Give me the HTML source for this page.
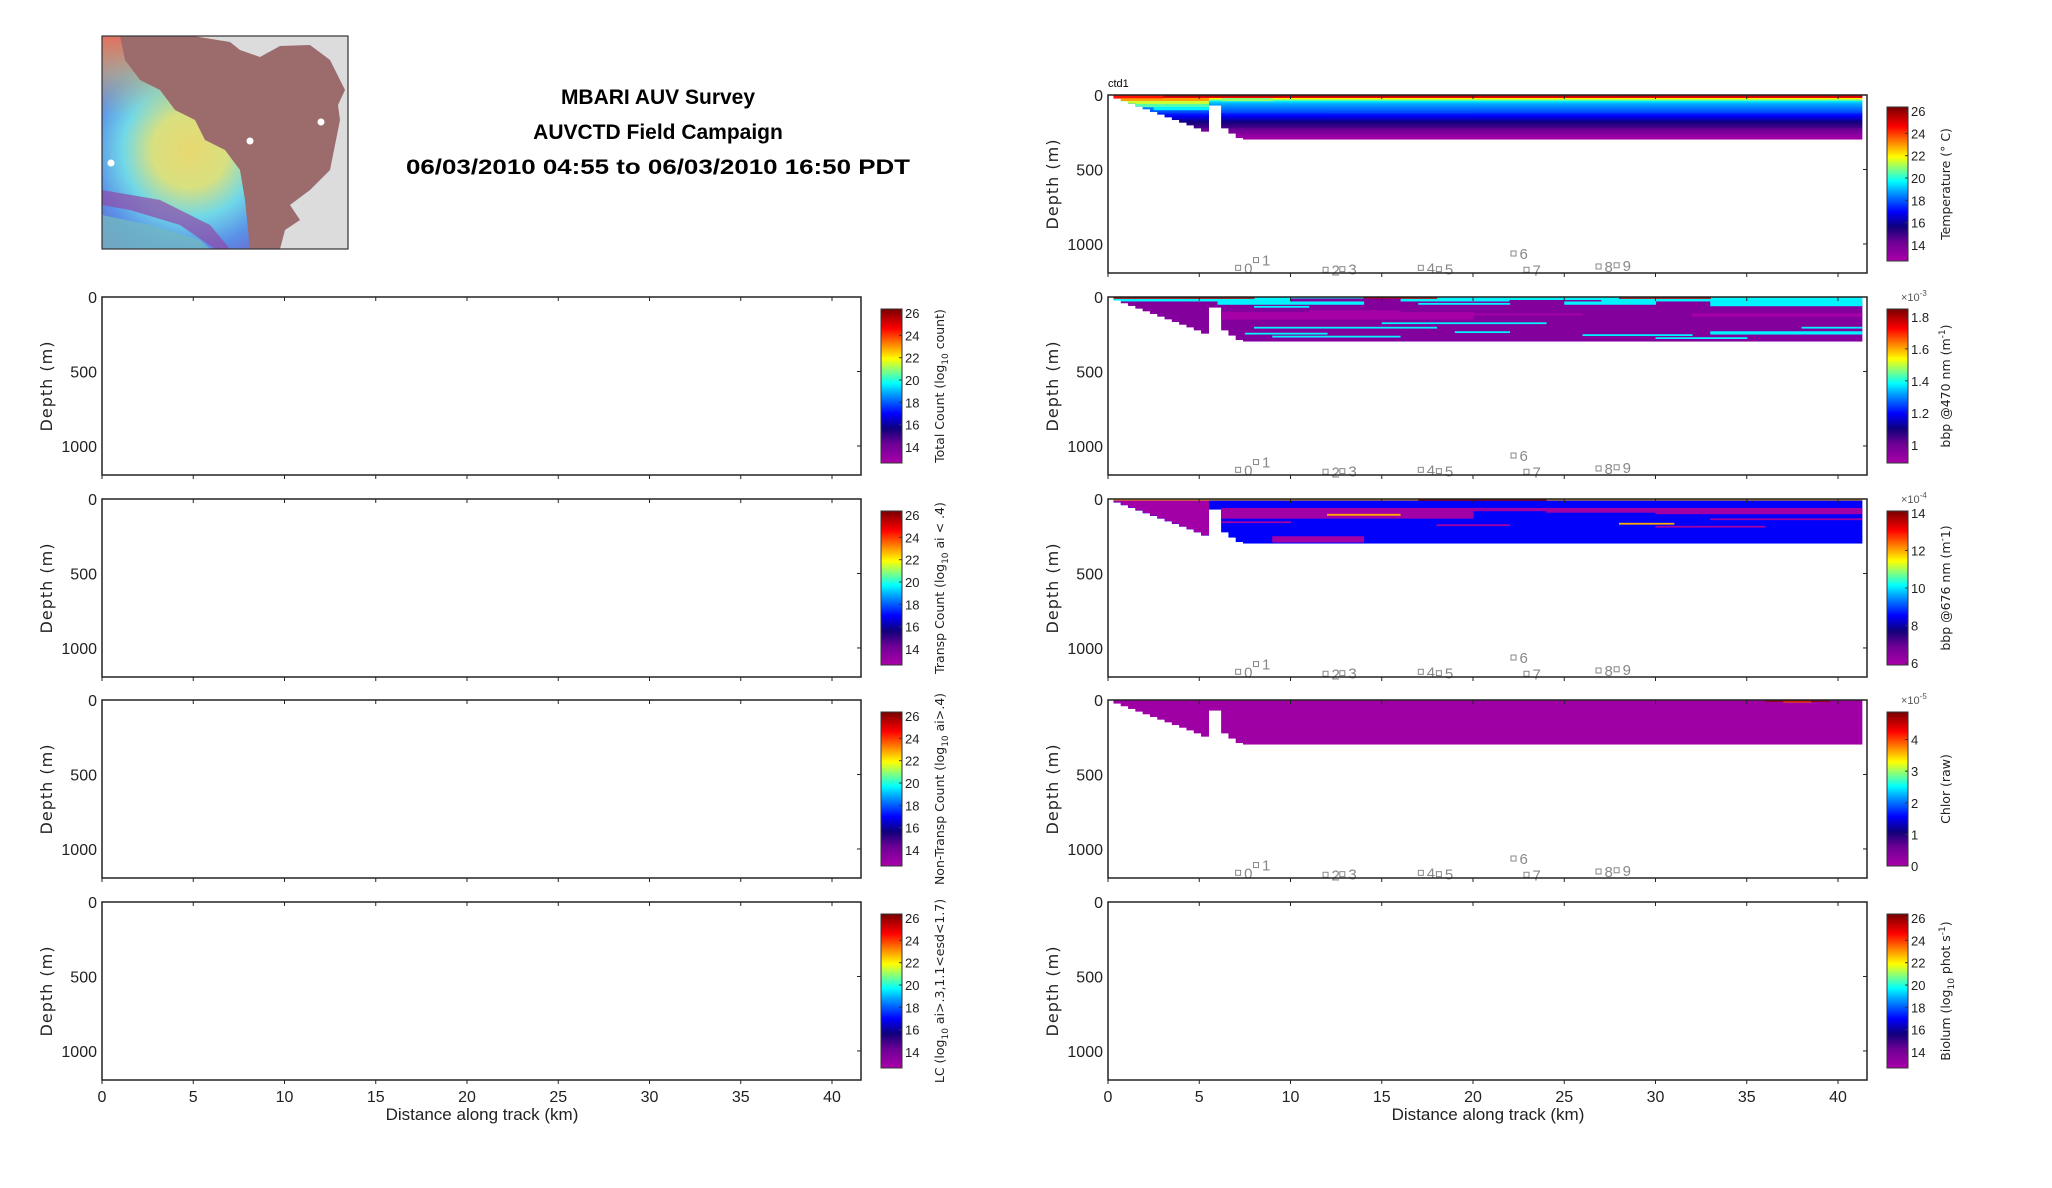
<!DOCTYPE html>
<html><head><meta charset="utf-8"><style>
html,body{margin:0;padding:0;background:#fff;}
svg{display:block;font-family:"Liberation Sans","DejaVu Sans",sans-serif;}
</style></head><body>
<svg id="fig" width="2052" height="1188" viewBox="0 0 2052 1188" xmlns="http://www.w3.org/2000/svg">
<defs>
<radialGradient id="mapgrad" cx="190" cy="150" r="150" gradientUnits="userSpaceOnUse">
<stop offset="0" stop-color="#e8d870"/><stop offset="0.25" stop-color="#d8e080"/><stop offset="0.45" stop-color="#70d8e8"/><stop offset="0.65" stop-color="#5a90e8"/><stop offset="0.85" stop-color="#7060c8"/><stop offset="1" stop-color="#9050a0"/>
</radialGradient>
<linearGradient id="topgrad" x1="0" y1="0" x2="0" y2="1">
<stop offset="0" stop-color="#e07060"/><stop offset="0.5" stop-color="#e0c060" stop-opacity="0.5"/><stop offset="1" stop-color="#e0c060" stop-opacity="0"/>
</linearGradient>
<clipPath id="mapclip"><rect x="102" y="36" width="246" height="213"/></clipPath>
</defs>
<g>
<g clip-path="url(#mapclip)">
<rect x="102" y="36" width="246" height="213" fill="url(#mapgrad)"/>
<rect x="102" y="36" width="120" height="80" fill="url(#topgrad)"/>
<polygon points="102,215 150,225 200,240 210,249 102,249" fill="#70b8c0" opacity="0.8"/>
<polygon points="102,190 160,200 210,225 230,249 215,249 180,225 130,210 102,205" fill="#9048a8" opacity="0.7"/>
<polygon points="120,36 193,36 230,42 260,57 280,46 310,45 330,60 345,90 340,120 330,170 310,190 290,205 300,220 285,230 280,249 250,249 245,200 240,170 225,150 205,140 195,120 175,110 160,90 140,80 125,60" fill="#9c6b6b"/>
<polygon points="193,36 348,36 348,249 280,249 285,230 300,220 290,205 310,190 330,170 340,120 338,105 345,90 330,60 310,45 280,46 260,57 240,50 230,42" fill="#dcdcdc"/>
</g>
<circle cx="111" cy="163" r="3.5" fill="#fff"/><circle cx="250" cy="141" r="3.5" fill="#fff"/><circle cx="321" cy="122" r="3.5" fill="#fff"/>
<rect x="102" y="36" width="246" height="213" fill="none" stroke="#333" stroke-width="1.2"/>
</g>
<g font-weight="bold" font-size="21" text-anchor="middle" fill="#000">
<text x="658" y="104">MBARI AUV Survey</text>
<text x="658" y="139">AUVCTD Field Campaign</text>
<text x="658" y="174" textLength="504" lengthAdjust="spacingAndGlyphs">06/03/2010 04:55 to 06/03/2010 16:50 PDT</text>
</g>
<g id="panels"></g>
</svg>
<script>
// ---- shared data ----
const xTicks = [0,5,10,15,20,25,30,35,40];
const yTicks = [0,500,1000];
const depthBins = [0,10,20,30,40,50,60,70,80,90,100,110,120,130,140,150,160,170,180,190,200,210,220,230,240,250,260,270,280,290,300];
const colX0 = [0.3,0.7,1.1,1.5,1.9,2.3,2.7,3.1,3.5,3.9,4.3,4.7,5.1,5.5,6.2,6.6,7.0,7.4];
const colX1 = [0.7,1.1,1.5,1.9,2.3,2.7,3.1,3.5,3.9,4.3,4.7,5.1,5.5,6.2,6.6,7.0,7.4,41.3];
const colBottom = [20,38,56,74,92,110,128,146,164,182,200,220,242,67,220,255,285,295];
const markerKm = [7.13,8.11,11.92,12.84,17.14,18.13,22.22,22.93,26.88,27.87];
const markerDepth = [1177,1125,1190,1186,1177,1186,1081,1190,1168,1160];
const markerLabels = ["0","1","2","3","4","5","6","7","8","9"];
// temperature
const tempProfile = [26,25,22,20.5,19.5,19,18.8,18.6,18.4,18.2,18,17.8,17.4,17.1,16.8,16.5,16.2,15.8,15.5,15.3,15.1,14.9,14.5,14.2,14,13.8,13.4,13.1,12.9,12.8];
const tempStrX0 = [0.3,0.7,1.5,2.5,0.3,20,30,6.2,12];
const tempStrX1 = [5.5,5.5,5.5,5.5,3,28,41.3,9,20];
const tempStrD0 = [20,40,60,80,0,0,0,20,110];
const tempStrD1 = [40,60,80,100,20,8,8,40,120];
const tempStrV = [23,21.5,20.5,19.6,24.5,25.8,25.6,21,17.8];
// bbp 470
const b470Profile = [1.38,1.38,1.38,0.96,0.96,0.96,0.96,0.96,0.96,0.96,0.96,0.96,0.96,0.96,0.96,0.96,0.96,0.96,0.96,0.96,0.96,0.96,0.96,0.96,0.96,0.96,0.96,0.96,0.96,0.96];
const b470StrX0 = [0.3,14,28,10,22,6,17,25,33,8,6.2,11,32,20,8,7.5,9,19,26,33,15,30,38];
const b470StrX1 = [8,18,33,16,27,14,22,30,41.3,11,20,16,41.3,26,18,12,16,22,32,41.3,24,35,41.3];
const b470StrD0 = [0,0,0,10,20,30,40,30,30,60,100,90,110,110,200,240,260,230,250,230,170,270,200];
const b470StrD1 = [10,10,10,30,30,50,50,50,60,70,150,100,130,120,210,250,270,240,260,250,180,280,210];
const b470StrV = [1.8,1.8,1.8,0.96,0.96,1.38,1.38,1.38,1.38,1.38,0.89,0.89,0.89,0.89,1.38,1.38,1.38,1.38,1.38,1.38,1.38,1.38,1.38];
// bbp 676 (x1e-4)
const b676Profile = [12,8.5,8.5,8.5,8.5,8.5,8.5,8.5,8.5,8.5,8.5,8.5,8.5,8.5,8.5,8.5,8.5,8.5,8.5,8.5,8.5,8.5,8.5,8.5,8.5,8.5,8.5,8.5,8.5,8.5];
const b676StrX0 = [6.2,6.2,30,24,0.3,6.2,9,18,30,17,12,28,33];
const b676StrX1 = [41.3,20,41.3,30,5.5,10,14,22,36,24,16,31,41.3];
const b676StrD0 = [60,80,80,70,10,150,250,170,180,0,100,160,130];
const b676StrD1 = [80,130,100,90,250,160,290,180,190,10,110,170,140];
const b676StrV = [6,6,6,6,6,6,6,6,6,14,12,12,6];
// chlorophyll (x1e-5)
const chlProfile = [0.1,0.1,0.1,0.1,0.1,0.1,0.1,0.1,0.1,0.1,0.1,0.1,0.1,0.1,0.1,0.1,0.1,0.1,0.1,0.1,0.1,0.1,0.1,0.1,0.1,0.1,0.1,0.1,0.1,0.1];
const chlStrX0 = [36,37];
const chlStrX1 = [39.5,38.5];
const chlStrD0 = [0,10];
const chlStrD1 = [10,15];
const chlStrV = [4.8,4.0];
// colorbar settings
const tempTicks = [14,16,18,20,22,24,26];
const b470Ticks = [1,1.2,1.4,1.6,1.8];
const b676Ticks = [6,8,10,12,14];
const chlTicks = [0,1,2,3,4];

const NS = "http://www.w3.org/2000/svg";
const root = document.getElementById('panels');
const stops = [[0,'#a800a8'],[0.12,'#6e0096'],[0.22,'#10007a'],[0.32,'#0000ff'],[0.45,'#00a0ff'],[0.52,'#00ffff'],[0.6,'#80ff80'],[0.68,'#ffff00'],[0.78,'#ff8000'],[0.88,'#ff0000'],[1,'#800000']];
function hex(c){return [parseInt(c.substr(1,2),16),parseInt(c.substr(3,2),16),parseInt(c.substr(5,2),16)];}
function cmap(t){t=Math.max(0,Math.min(1,t));for(let i=1;i<stops.length;i++){if(t<=stops[i][0]){const a=hex(stops[i-1][1]),b=hex(stops[i][1]);const f=(t-stops[i-1][0])/(stops[i][0]-stops[i-1][0]);return 'rgb('+a.map((v,k)=>Math.round(v+(b[k]-v)*f)).join(',')+')';}}return stops[stops.length-1][1];}
function el(tag,attrs,parent){const e=document.createElementNS(NS,tag);for(const k in attrs)e.setAttribute(k,attrs[k]);(parent||root).appendChild(e);return e;}

const PW=759, PH=178, KM=18.25, DMAX=1195;
function drawPanel(o){
  const g=el('g',{});
  
  
  const X=km=>o.x+km*KM, Y=d=>o.y+d/DMAX*PH;
  const t=v=>(v-o.vmin)/(o.vmax-o.vmin);
  if(o.profile){
    const hm=el('g',{},g);
    
    
    for(let c=0;c<colX0.length;c++){
      for(let b=0;b<o.profile.length;b++){
        const d0=depthBins[b], d1=Math.min(depthBins[b+1],colBottom[c]);
        if(d1<=d0) continue;
        const r=el('rect',{x:X(colX0[c]),y:Y(d0),width:X(colX1[c])-X(colX0[c])+0.6,height:Y(d1)-Y(d0)+0.6,fill:cmap(t(o.profile[b]))},hm);
        
        
      }
    }
    for(let s=0;s<o.sx0.length;s++){
      for(let c=0;c<colX0.length;c++){
        const a=Math.max(o.sx0[s],colX0[c]), b=Math.min(o.sx1[s],colX1[c]);
        const d0=o.sd0[s], d1=Math.min(o.sd1[s],colBottom[c]);
        if(b<=a||d1<=d0) continue;
        const r=el('rect',{x:X(a),y:Y(d0),width:X(b)-X(a)+0.6,height:Y(d1)-Y(d0)+0.3,fill:cmap(t(o.sv[s]))},hm);
        
        
      }
    }
    for(let m=0;m<markerKm.length;m++){
      const mx=X(markerKm[m]), my=Y(markerDepth[m]);
      const sq=el('rect',{x:mx-2.5,y:my-5,width:5,height:5,fill:'none',stroke:'#888','stroke-width':1},g);
      
      
      const tx=el('text',{x:mx+6,y:my+3,'font-size':15,fill:'#888'},g);
      
      
      tx.textContent=markerLabels[m];
    }
  }
  const fr=el('rect',{x:o.x,y:o.y,width:PW,height:PH,fill:'none',stroke:'#222','stroke-width':1.5},g);
  
  
  xTicks.forEach(v=>{
    el('line',{x1:X(v),x2:X(v),y1:o.y,y2:o.y+4,stroke:'#222'},g);
    el('line',{x1:X(v),x2:X(v),y1:o.y+PH,y2:o.y+PH+4,stroke:'#222'},g);
    if(o.xlabels){const tl=el('text',{x:X(v),y:o.y+PH+22,'font-size':16,'text-anchor':'middle',fill:'#222'},g);
      
      
      tl.textContent=v;}
  });
  yTicks.forEach(v=>{
    el('line',{x1:o.x+PW-4,x2:o.x+PW,y1:Y(v),y2:Y(v),stroke:'#222'},g);
    const tl=el('text',{x:o.x-5,y:Y(v)+6,'font-size':16,'text-anchor':'end',fill:'#222'},g);
    
    
    tl.textContent=v;
  });
  const yl=el('text',{transform:`translate(${o.x-50},${o.y+PH/2}) rotate(-90)`,'font-size':16,'text-anchor':'middle',fill:'#222','font-family':'DejaVu Sans, sans-serif','letter-spacing':'1'},g);
  
  
  yl.textContent='Depth (m)';
  if(o.xlabels){
    const xl=el('text',{x:o.x+380,y:o.y+PH+40,'font-size':17,'text-anchor':'middle',fill:'#222'},g);
    
    
    xl.textContent='Distance along track (km)';
  }
  if(o.topText){const tt=el('text',{x:o.x,y:o.y-8,'font-size':11,fill:'#000'},g);
    
    
    tt.textContent=o.topText;}
  const cx=o.x+PW+20, cy=o.y+12, cw=21, ch=154;
  const cb=el('g',{},g);
  
  
  for(let i=0;i<77;i++){el('rect',{x:cx,y:cy+ch-(i+1)*2,width:cw,height:2.3,fill:cmap(i/76)},cb);}
  el('rect',{x:cx,y:cy,width:cw,height:ch,fill:'none',stroke:'#333','stroke-width':1},cb);
  o.ticks.forEach(v=>{const yy=cy+ch-(v-o.vmin)/(o.vmax-o.vmin)*ch;
    el('line',{x1:cx+cw-3,x2:cx+cw,y1:yy,y2:yy,stroke:'#333'},cb);
    const tl=el('text',{x:cx+cw+3,y:yy+5,'font-size':13,fill:'#222'},cb);
    
    
    tl.textContent=v;});
  if(o.exp){const ex=el('text',{x:cx+14,y:cy-8,'font-size':11,fill:'#555'},cb);
    
    
    ex.innerHTML='×10<tspan dy="-5" font-size="8">'+o.exp+'</tspan>';}
  const lb=el('text',{transform:`translate(${cx+cw+42},${cy+ch/2}) rotate(-90)`,'font-size':12.5,'text-anchor':'middle',fill:'#222','font-family':'DejaVu Sans, sans-serif'},cb);
  
  
  lb.innerHTML=o.label;
}
const LX=102, RX=1108;
const tops=[297,499,700,902];
const tempCB={vmin:12.57,vmax:26.36,ticks:tempTicks};
const leftLabels=['Total Count (log<tspan dy="4" font-size="9">10</tspan><tspan dy="-4"> count)</tspan>','Transp Count (log<tspan dy="4" font-size="9">10</tspan><tspan dy="-4"> ai &lt; .4)</tspan>','Non-Transp Count (log<tspan dy="4" font-size="9">10</tspan><tspan dy="-4"> ai&gt;.4)</tspan>','LC (log<tspan dy="4" font-size="9">10</tspan><tspan dy="-4"> ai&gt;.3,1.1&lt;esd&lt;1.7)</tspan>'];
const leftNames=['total-count-panel','transp-count-panel','non-transp-count-panel','lc-panel'];
tops.forEach((ty,i)=>drawPanel(Object.assign({name:leftNames[i],x:LX,y:ty,label:leftLabels[i],xlabels:i===3},tempCB)));
drawPanel({name:'temperature-panel',x:RX,y:95,vmin:12.57,vmax:26.36,ticks:tempTicks,label:'Temperature (° C)',topText:'ctd1',profile:tempProfile,sx0:tempStrX0,sx1:tempStrX1,sd0:tempStrD0,sd1:tempStrD1,sv:tempStrV});
drawPanel({name:'bbp470-panel',x:RX,y:297,vmin:0.886,vmax:1.849,ticks:b470Ticks,exp:'-3',label:'bbp @470 nm (m<tspan dy="-5" font-size="9">-1</tspan><tspan dy="5">)</tspan>',profile:b470Profile,sx0:b470StrX0,sx1:b470StrX1,sd0:b470StrD0,sd1:b470StrD1,sv:b470StrV});
drawPanel({name:'bbp676-panel',x:RX,y:499,vmin:5.9,vmax:14.1,ticks:b676Ticks,exp:'-4',label:'bbp @676 nm (m<tspan dy="-5" font-size="9">-</tspan><tspan dy="5">1)</tspan>',profile:b676Profile,sx0:b676StrX0,sx1:b676StrX1,sd0:b676StrD0,sd1:b676StrD1,sv:b676StrV});
drawPanel({name:'chlorophyll-panel',x:RX,y:700,vmin:0,vmax:4.87,ticks:chlTicks,exp:'-5',label:'Chlor (raw)',profile:chlProfile,sx0:chlStrX0,sx1:chlStrX1,sd0:chlStrD0,sd1:chlStrD1,sv:chlStrV});
drawPanel(Object.assign({name:'biolum-panel',x:RX,y:902,label:'Biolum (log<tspan dy="4" font-size="9">10</tspan><tspan dy="-4"> phot s</tspan><tspan dy="-5" font-size="9">-1</tspan><tspan dy="5">)</tspan>',xlabels:true},tempCB));
</script>
</body></html>
